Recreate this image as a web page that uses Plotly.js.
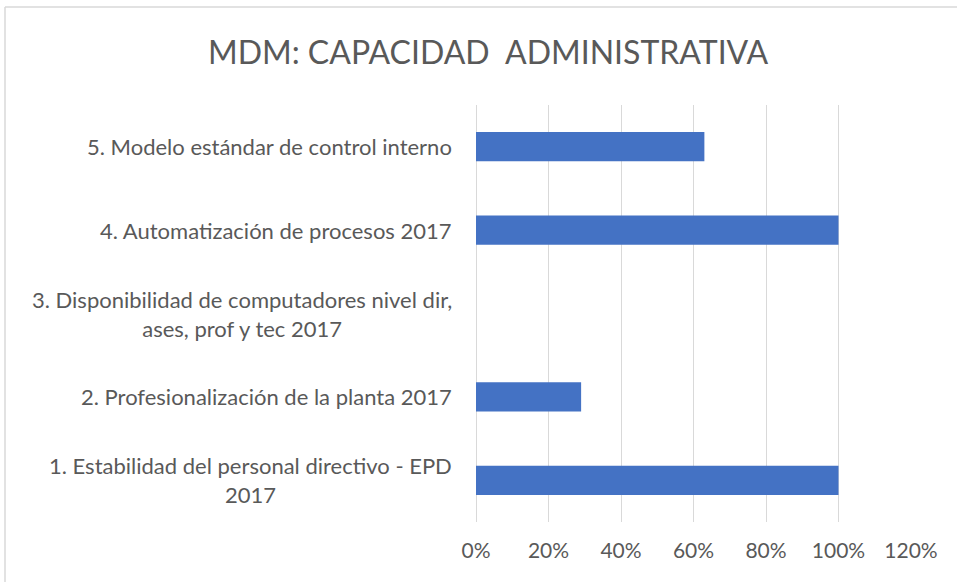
<!DOCTYPE html>
<html>
<head>
<meta charset="utf-8">
<script src="https://cdn.plot.ly/plotly-3.0.1.min.js"></script>
<style>
  html, body { margin: 0; padding: 0; background: #ffffff; }
  #chart { width: 957px; height: 582px; }
</style>
</head>
<body>
<div id="chart"></div>
<script>
// Categories (bottom to top, as drawn)
const categories = [
  "1. Estabilidad del personal directivo - EPD<br>2017",
  "2. Profesionalización de la planta 2017",
  "3. Disponibilidad de computadores nivel dir,<br>ases, prof y tec 2017",
  "4. Automatización de procesos 2017",
  "5. Modelo estándar de control interno"
];
// Values (fraction of 100%)
const values = [1.00, 0.29, 0, 1.00, 0.63];
// X tick values
const xTicks = [0, 0.2, 0.4, 0.6, 0.8, 1.0, 1.2];
const chartTitle = "MDM: CAPACIDAD  ADMINISTRATIVA";

const textColor = "#595959";
const fontFam = "Lato, 'Open Sans', sans-serif";

const trace = {
  type: "bar",
  orientation: "h",
  y: categories,
  x: values,
  marker: { color: "#4472C4" },
  hoverinfo: "none"
};

const labelAnnotations = categories.map(c => ({
  xref: "paper", yref: "y",
  x: 0, y: c,
  xanchor: "right", yanchor: "middle",
  xshift: -22,
  text: c,
  align: "center",
  showarrow: false,
  font: { family: fontFam, size: 22, color: textColor }
}));

const layout = {
  width: 957,
  height: 582,
  margin: { l: 476, r: 46, t: 105, b: 60 },
  paper_bgcolor: "#ffffff",
  plot_bgcolor: "#ffffff",
  showlegend: false,
  bargap: 0.65,
  title: {
    text: chartTitle,
    xref: "container", yref: "container",
    x: 0.51, y: 0.909,
    xanchor: "center", yanchor: "middle",
    font: { family: fontFam, size: 32, color: textColor }
  },
  xaxis: {
    range: [0, 1.2],
    tickvals: xTicks,
    tickformat: ".0%",
    showgrid: true,
    gridcolor: "#d9d9d9",
    gridwidth: 1,
    zeroline: true,
    zerolinecolor: "#d9d9d9",
    zerolinewidth: 1,
    showline: false,
    ticks: "",
    ticklabelstandoff: 14,
    tickfont: { family: fontFam, size: 21, color: textColor },
    fixedrange: true
  },
  yaxis: {
    type: "category",
    categoryorder: "array",
    categoryarray: categories,
    showticklabels: false,
    showgrid: false,
    zeroline: false,
    showline: false,
    ticks: "",
    fixedrange: true
  },
  annotations: labelAnnotations,
  shapes: [
    { type: "line", xref: "paper", yref: "paper",
      x0: (5 - 476) / 435, x1: (957 - 476) / 435,
      y0: (522 - 7) / 417, y1: (522 - 7) / 417,
      line: { color: "#d9d9d9", width: 1.5 } },
    { type: "line", xref: "paper", yref: "paper",
      x0: (5 - 476) / 435, x1: (5 - 476) / 435,
      y0: (522 - 7) / 417, y1: (522 - 582) / 417,
      line: { color: "#d9d9d9", width: 1.5 } }
  ]
};

Plotly.newPlot("chart", [trace], layout, { displayModeBar: false, staticPlot: true });
</script>
</body>
</html>
